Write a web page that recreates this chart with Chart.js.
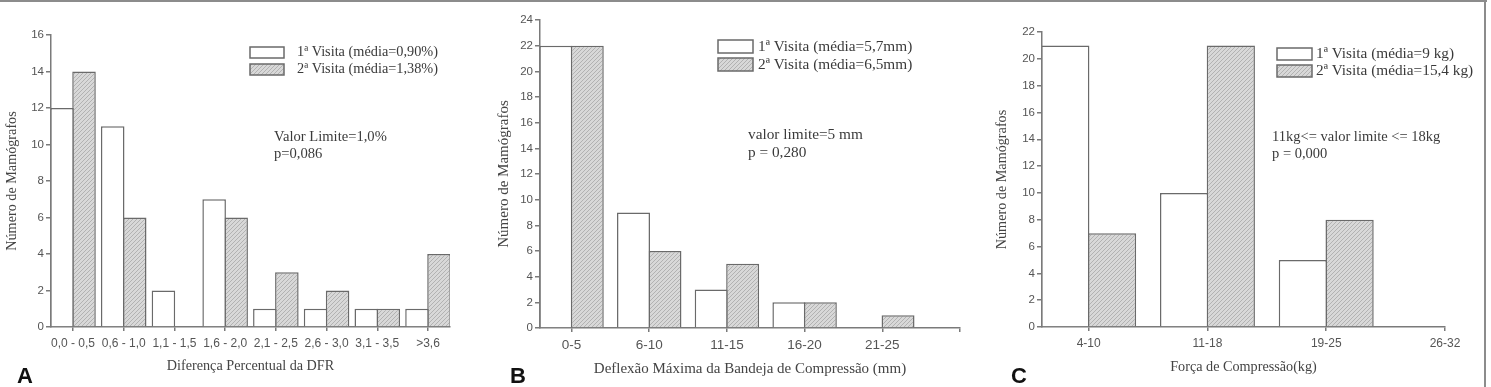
<!DOCTYPE html>
<html>
<head>
<meta charset="utf-8">
<script src="https://cdn.jsdelivr.net/npm/chart.js@4.4.1/dist/chart.umd.min.js"></script>
<style>
  body { margin: 0; background: #fff; }
  #quadro { position: relative; width: 1491px; height: 387px; overflow: hidden; background: #fff; }
  #quadro canvas { position: absolute; top: 0; }
  #bordaTopo { position: absolute; left: 0; top: 0; width: 1487px; height: 2px; background: #8c8c8c; }
  #bordaDir { position: absolute; left: 1484px; top: 0; width: 2px; height: 387px; background: #8c8c8c; }
</style>
</head>
<body>
<div id="quadro">
  <canvas id="grafico_a" width="480" height="387" style="left:0px"></canvas>
  <canvas id="grafico_b" width="495" height="387" style="left:495px"></canvas>
  <canvas id="grafico_c" width="501" height="387" style="left:990px"></canvas>
  <div id="bordaTopo"></div>
  <div id="bordaDir"></div>
</div>
<script>
// ---- dados ----
let categoriasA = ['0,0 - 0,5', '0,6 - 1,0', '1,1 - 1,5', '1,6 - 2,0', '2,1 - 2,5', '2,6 - 3,0', '3,1 - 3,5', '>3,6']
let visita1A = [12, 11, 2, 7, 1, 1, 1, 1]
let visita2A = [14, 6, null, 6, 3, 2, 1, 4]

let categoriasB = ['0-5', '6-10', '11-15', '16-20', '21-25', '']
let visita1B = [22, 9, 3, 2, null]
let visita2B = [22, 6, 5, 2, 1]

let categoriasC = ['4-10', '11-18', '19-25', '26-32']
let visita1C = [21, 10, 5]
let visita2C = [7, 21, 8]

let legendasA = ['1ª Visita (média=0,90%)', '2ª Visita (média=1,38%)']
let legendasB = ['1ª Visita (média=5,7mm)', '2ª Visita (média=6,5mm)']
let legendasC = ['1ª Visita (média=9 kg)', '2ª Visita (média=15,4 kg)']

let ticksYA = [0, 16]
let ticksYB = [0, 24]
let ticksYC = [0, 22]

// ---- estilo ----
const corEixo = '#7a7a7a'
const corBorda = '#6a6a6a'
const serif = '"Liberation Serif", "Times New Roman", serif'
const sans = '"Liberation Sans", Arial, sans-serif'

// hachurado cinza das barras da 2ª visita
function criarHachura() {
    let c = document.createElement('canvas')
    c.width = 4
    c.height = 4
    let g = c.getContext('2d')
    g.fillStyle = '#d8d8d8'
    g.fillRect(0, 0, 4, 4)
    g.strokeStyle = '#b2b2b2'
    g.lineWidth = 1
    g.beginPath()
    g.moveTo(-1, 5); g.lineTo(5, -1)
    g.moveTo(-1, 1); g.lineTo(1, -1)
    g.moveTo(3, 5); g.lineTo(5, 3)
    g.stroke()
    return g.createPattern(c, 'repeat')
}
const hachura = criarHachura()

// legenda, notas e letra do painel
const extras = {
    id: 'extras',
    afterDraw(chart, args, op) {
        const ctx = chart.ctx
        ctx.save()
        chart.data.datasets.forEach((d, i) => {
            let x = op.legX, y = op.legY + i * op.legPasso
            ctx.fillStyle = d.backgroundColor
            ctx.fillRect(x, y, op.legL, op.legA)
            ctx.strokeStyle = corBorda
            ctx.lineWidth = 1.5
            ctx.strokeRect(x, y, op.legL, op.legA)
            ctx.fillStyle = '#3a3a3a'
            ctx.font = op.legFonte + 'px ' + serif
            ctx.textBaseline = 'middle'
            ctx.textAlign = 'left'
            ctx.fillText(d.label, op.textoX, y + op.legA / 2)
        })
        ctx.font = op.notaFonte + 'px ' + serif
        op.notas.forEach((t, i) => {
            ctx.fillText(t, op.notaX, op.notaY + i * op.notaPasso)
        })
        ctx.fillStyle = '#111'
        ctx.font = 'bold 22px ' + sans
        ctx.textBaseline = 'alphabetic'
        ctx.fillText(op.letra, op.letraX, 383)
        ctx.restore()
    }
}

function montarGrafico(canvasId, cfg) {
    let pontos = (arr) => arr.map((v, i) => ({ x: i, y: v }))
    return new Chart(document.getElementById(canvasId), {
        type: 'bar',
        data: {
            datasets: [
                {
                    label: cfg.legendas[0],
                    data: pontos(cfg.v1),
                    backgroundColor: '#ffffff',
                    borderColor: corBorda,
                    borderWidth: 1.5,
                },
                {
                    label: cfg.legendas[1],
                    data: pontos(cfg.v2),
                    backgroundColor: hachura,
                    borderColor: corBorda,
                    borderWidth: 1.5,
                },
            ],
        },
        plugins: [extras],
        options: {
            responsive: false,
            animation: false,
            categoryPercentage: cfg.catPct,
            barPercentage: cfg.barPct,
            layout: { padding: cfg.padding },
            scales: {
                x: {
                    type: 'linear',
                    bounds: 'data',
                    offset: false,
                    min: cfg.xMin,
                    max: cfg.xMax,
                    // um tick por categoria
                    afterBuildTicks: (s) => { s.ticks = cfg.categorias.map((c, i) => ({ value: i })) },
                    afterFit: (s) => { s.height = cfg.alturaX },
                    border: { color: corEixo, width: 1.5 },
                    grid: { offset: false, drawOnChartArea: false, drawTicks: true, tickLength: 4, color: corEixo, lineWidth: 1.5 },
                    ticks: {
                        autoSkip: false,
                        maxRotation: 0,
                        padding: 5,
                        color: '#555',
                        font: { family: sans, size: cfg.fonteTickX },
                        callback: (v) => cfg.categorias[v] ?? '',
                    },
                    title: {
                        display: true,
                        text: cfg.tituloX,
                        color: '#444',
                        font: { family: serif, size: cfg.fonteTitulo },
                        padding: { top: 0, bottom: cfg.tituloXPad },
                    },
                },
                y: {
                    min: cfg.ticksY[0],
                    max: cfg.ticksY[1],
                    afterFit: (s) => { s.width = cfg.larguraY },
                    border: { color: corEixo, width: 1.5 },
                    grid: { drawOnChartArea: false, drawTicks: true, tickLength: 5, color: corEixo, lineWidth: 1.5 },
                    ticks: {
                        stepSize: 2,
                        padding: 2,
                        color: '#555',
                        font: { family: sans, size: 11.5 },
                    },
                    title: {
                        display: true,
                        text: 'Número de Mamógrafos',
                        color: '#444',
                        font: { family: serif, size: cfg.fonteTitulo },
                        padding: { top: cfg.tituloYPad, bottom: 0 },
                    },
                },
            },
            plugins: {
                legend: { display: false },
                tooltip: { enabled: false },
                extras: cfg.extras,
            },
        },
    })
}

montarGrafico('grafico_a', {
    categorias: categoriasA, v1: visita1A, v2: visita2A, legendas: legendasA, ticksY: ticksYA,
    xMin: -0.434, xMax: 7.434, catPct: 0.868, barPct: 1.07,
    padding: { left: 0, top: 35, right: 30, bottom: 0 },
    larguraY: 51, alturaX: 60, tituloXPad: 12, tituloYPad: 4,
    fonteTickX: 12, fonteTitulo: 14.2,
    tituloX: 'Diferença Percentual da DFR',
    extras: {
        legX: 250, legY: 47, legPasso: 17, legL: 34, legA: 11, textoX: 297, legFonte: 14.3,
        notas: ['Valor Limite=1,0%', 'p=0,086'], notaX: 274, notaY: 137, notaPasso: 17, notaFonte: 14.6,
        letra: 'A', letraX: 17,
    },
})

montarGrafico('grafico_b', {
    categorias: categoriasB, v1: visita1B, v2: visita2B, legendas: legendasB, ticksY: ticksYB,
    xMin: -0.406, xMax: 5, catPct: 0.81, barPct: 1.048,
    padding: { left: 0, top: 20, right: 30, bottom: 0 },
    larguraY: 45, alturaX: 59, tituloXPad: 9, tituloYPad: 0,
    fonteTickX: 13.5, fonteTitulo: 15,
    tituloX: 'Deflexão Máxima da Bandeja de Compressão (mm)',
    extras: {
        legX: 223, legY: 40, legPasso: 18, legL: 35, legA: 13, textoX: 263, legFonte: 15.3,
        notas: ['valor limite=5 mm', 'p = 0,280'], notaX: 253, notaY: 135, notaPasso: 18, notaFonte: 15.3,
        letra: 'B', letraX: 15,
    },
})

montarGrafico('grafico_c', {
    categorias: categoriasC, v1: visita1C, v2: visita2C, legendas: legendasC, ticksY: ticksYC,
    xMin: -0.393, xMax: 3, catPct: 0.787, barPct: 1.032,
    padding: { left: 0, top: 32, right: 46, bottom: 0 },
    larguraY: 52, alturaX: 60, tituloXPad: 11, tituloYPad: 4,
    fonteTickX: 12, fonteTitulo: 14.2,
    tituloX: 'Força de Compressão(kg)',
    extras: {
        legX: 287, legY: 48, legPasso: 17, legL: 35, legA: 12, textoX: 326, legFonte: 15.3,
        notas: ['11kg<= valor limite <= 18kg', 'p = 0,000'], notaX: 282, notaY: 137, notaPasso: 17, notaFonte: 14.5,
        letra: 'C', letraX: 21,
    },
})
</script>
</body>
</html>
